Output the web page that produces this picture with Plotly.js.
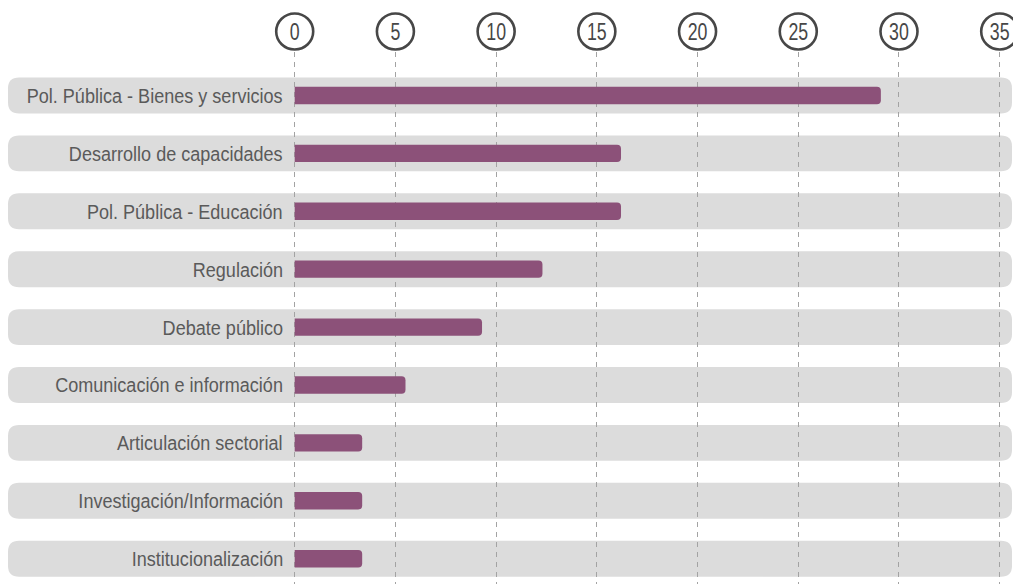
<!DOCTYPE html>
<html>
<head>
<meta charset="utf-8">
<script src="https://cdn.plot.ly/plotly-3.0.1.min.js"></script>
<style>
  html, body { margin: 0; padding: 0; background: #ffffff; }
  #chart { width: 1013px; height: 584px; }
</style>
</head>
<body>
<div id="chart"></div>
<script>
// ---- data ----
const categories = [
  "Pol. Pública - Bienes y servicios",
  "Desarrollo de capacidades",
  "Pol. Pública - Educación",
  "Regulación",
  "Debate público",
  "Comunicación e información",
  "Articulación sectorial",
  "Investigación/Información",
  "Institucionalización"
];
const values = [29.1, 16.2, 16.2, 12.3, 9.3, 5.5, 3.35, 3.35, 3.35];
const tickValues = [0, 5, 10, 15, 20, 25, 30, 35];
const tickLabels = ["0", "5", "10", "15", "20", "25", "30", "35"];

// ---- layout geometry ----
const W = 1013, H = 584;
const M = { l: 0, r: 0, t: 52, b: 0 };
const plotW = W - M.l - M.r, plotH = H - M.t - M.b;
const zeroPx = 294.7, pxPerUnit = 705 / 35;      // x scale
const xRange = [(M.l - zeroPx) / pxPerUnit, (W - M.r - zeroPx) / pxPerUnit];
const yTop = -0.751, yBottom = 8.437;           // category index range (reversed)
const FONT = '"Liberation Sans", Arial, sans-serif';
const TEXT = '#5a5a5a';
const LABEL_SQUEEZE = 0.86, TICK_SQUEEZE = 0.74; // condensed look of the original typeface

function idxToPaperY(v) { return (yBottom - v) / (yBottom - yTop); }
function pxToPaperX(px) { return (px - M.l) / plotW; }
function pyToPaperY(py) { return (H - M.b - py) / plotH; }

const shapes = [];
// grey rounded bands behind each row
const bandHalf = 0.31, rPx = 11;
const bx0 = pxToPaperX(8), bx1 = pxToPaperX(1012);
const rx = rPx / plotW, ry = rPx / plotH;
categories.forEach((c, i) => {
  const yt = idxToPaperY(i - bandHalf), yb = idxToPaperY(i + bandHalf);
  const path = `M ${bx0 + rx} ${yt} L ${bx1 - rx} ${yt} Q ${bx1} ${yt} ${bx1} ${yt - ry} ` +
               `L ${bx1} ${yb + ry} Q ${bx1} ${yb} ${bx1 - rx} ${yb} ` +
               `L ${bx0 + rx} ${yb} Q ${bx0} ${yb} ${bx0} ${yb + ry} ` +
               `L ${bx0} ${yt - ry} Q ${bx0} ${yt} ${bx0 + rx} ${yt} Z`;
  shapes.push({ type: 'path', xref: 'paper', yref: 'paper', path: path,
    fillcolor: '#dcdcdc', line: { width: 0 }, layer: 'below' });
});
// circles around tick labels
tickValues.forEach(v => {
  shapes.push({ type: 'circle', xref: 'x', yref: 'paper',
    xsizemode: 'pixel', ysizemode: 'pixel', xanchor: v, yanchor: pyToPaperY(31.5),
    x0: -18.5, x1: 18.5, y0: -18, y1: 18,
    line: { color: '#474747', width: 2.6 }, fillcolor: 'rgba(0,0,0,0)', layer: 'above' });
});

// category labels
const annotations = categories.map(c => ({
  xref: 'x', x: 0, xanchor: 'right', xshift: -10,
  yref: 'y', y: c, yanchor: 'middle', showarrow: false,
  text: c, font: { family: FONT, size: 21, color: TEXT }
}));

const trace = {
  type: 'bar', orientation: 'h',
  y: categories, x: values,
  width: 0.3,
  marker: { color: '#8c5179', cornerradius: 4, line: { width: 0 } },
  hoverinfo: 'skip'
};

const layout = {
  width: W, height: H,
  margin: M,
  paper_bgcolor: '#ffffff', plot_bgcolor: 'rgba(0,0,0,0)',
  showlegend: false,
  xaxis: {
    range: xRange, side: 'top', fixedrange: true,
    tickvals: tickValues, ticktext: tickLabels,
    tickfont: { family: FONT, size: 24, color: '#474747' },
    ticks: '', showline: false, zeroline: false,
    showgrid: true, gridcolor: '#a3a3a3', gridwidth: 1, griddash: '5px,5px',
    ticklabelstandoff: 6, ticklabeloverflow: 'allow'
  },
  yaxis: {
    type: 'category', range: [yBottom, yTop], fixedrange: true,
    showticklabels: false, showgrid: false, zeroline: false, ticks: ''
  },
  shapes: shapes,
  annotations: annotations
};

Plotly.newPlot('chart', [trace], layout, { staticPlot: true, displayModeBar: false }).then(gd => {
  // narrow the category labels toward their right edge (keeps them as real text)
  gd.querySelectorAll('.annotation-text').forEach(t => {
    const bb = t.getBBox();
    const ax = bb.x + bb.width;
    t.setAttribute('transform', `translate(${ax},0) scale(${LABEL_SQUEEZE},1) translate(${-ax},0)`);
  });
  // narrow the tick numbers around their centre
  gd.querySelectorAll('.xtick text').forEach(t => {
    const bb = t.getBBox();
    const cx = bb.x + bb.width / 2;
    const tr = t.getAttribute('transform') || '';
    t.setAttribute('transform', `${tr} translate(${cx},0) scale(${TICK_SQUEEZE},1) translate(${-cx},0)`);
  });
});
</script>
</body>
</html>
